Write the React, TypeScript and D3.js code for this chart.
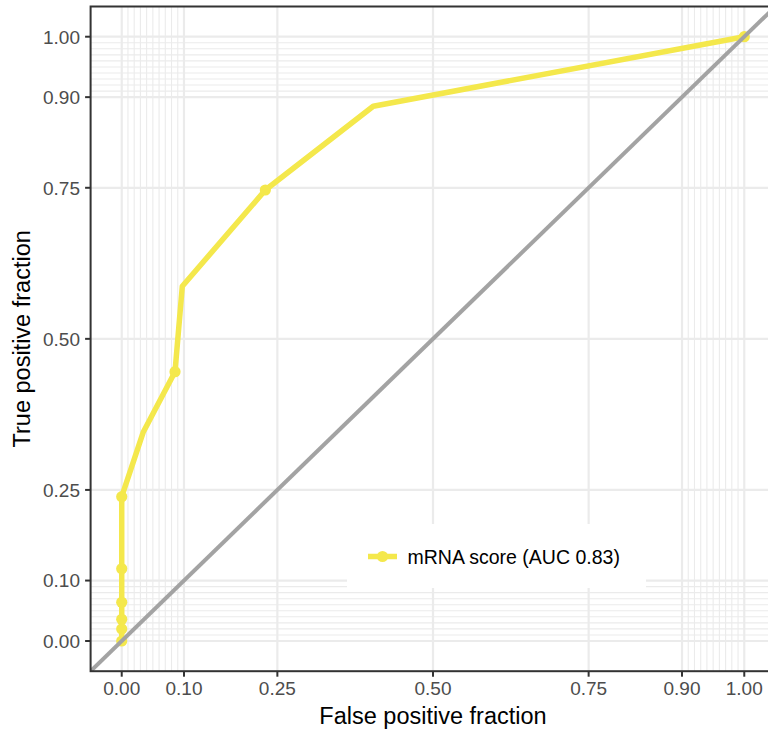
import React from "react";
import * as d3 from "d3";

// ROC curve vertices (false positive fraction, true positive fraction)
const rocFpf = [0, 0, 0, 0, 0, 0, 0.0347, 0.0856, 0.0973, 0.2307, 0.404, 1];
const rocTpf = [0, 0.0199, 0.0359, 0.064, 0.1196, 0.2388, 0.346, 0.4456, 0.587, 0.7463, 0.885, 1];
// cutoff points marked on the curve
const cutFpf = [0, 0, 0, 0, 0, 0, 0.0856, 0.2307, 1];
const cutTpf = [0, 0.0199, 0.0359, 0.064, 0.1196, 0.2388, 0.4456, 0.7463, 1];

const majorBreaks = [0, 0.1, 0.25, 0.5, 0.75, 0.9, 1];
const tickLabels = ["0.00", "0.10", "0.25", "0.50", "0.75", "0.90", "1.00"];
const minorBreaks = [
  0.01, 0.02, 0.03, 0.04, 0.05, 0.06, 0.07, 0.08, 0.09,
  0.91, 0.92, 0.93, 0.94, 0.95, 0.96, 0.97, 0.98, 0.99,
];
const seriesName = "mRNA score (AUC 0.83)";
const xTitle = "False positive fraction";
const yTitle = "True positive fraction";

const W = 768;
const H = 736;
const L = 90.6, R = 775.4, T = 6.5, B = 671.2;
const YELLOW = "#F4E84C";
const GRID = "#EBEBEB";
const FONT = "'Liberation Sans', Arial, Helvetica, sans-serif";

export default function App() {
  const x = d3.scaleLinear().domain([-0.05, 1.05]).range([L, R]);
  const y = d3.scaleLinear().domain([-0.05, 1.05]).range([B, T]);
  const pts = rocFpf.map((f, i) => [f, rocTpf[i]] as [number, number]);
  const line = d3
    .line<[number, number]>()
    .x((d) => x(d[0]))
    .y((d) => y(d[1]));
  const cuts = cutFpf.map((f, i) => [f, cutTpf[i]]);

  // legend box
  const lgX0 = 347, lgX1 = 646, lgY0 = 524, lgY1 = 588;
  const lgCy = (lgY0 + lgY1) / 2 + 0.5;

  return (
    <svg width={W} height={H} style={{ display: "block", position: "absolute", left: 0, top: 0 }}>
      <rect x={0} y={0} width={W} height={H} fill="#fff" />
      <defs>
        <clipPath id="panel">
          <rect x={L} y={T} width={R - L} height={B - T} />
        </clipPath>
      </defs>
      <g clipPath="url(#panel)">
        {minorBreaks.map((b) => (
          <g key={"mn" + b}>
            <line x1={x(b)} x2={x(b)} y1={T} y2={B} stroke={GRID} strokeWidth={1.1} />
            <line x1={L} x2={R} y1={y(b)} y2={y(b)} stroke={GRID} strokeWidth={1.1} />
          </g>
        ))}
        {majorBreaks.map((b) => (
          <g key={"mj" + b}>
            <line x1={x(b)} x2={x(b)} y1={T} y2={B} stroke={GRID} strokeWidth={2.2} />
            <line x1={L} x2={R} y1={y(b)} y2={y(b)} stroke={GRID} strokeWidth={2.2} />
          </g>
        ))}
        <path
          d={line(pts) || ""}
          fill="none"
          stroke={YELLOW}
          strokeWidth={5.5}
          strokeLinejoin="round"
        />
        {cuts.map((c, i) => (
          <circle key={i} cx={x(c[0])} cy={y(c[1])} r={5.6} fill={YELLOW} />
        ))}
        <line
          x1={x(-0.05)}
          y1={y(-0.05)}
          x2={x(1.05)}
          y2={y(1.05)}
          stroke="#A3A3A3"
          strokeWidth={4}
        />
        {/* legend */}
        <rect x={lgX0} y={lgY0} width={lgX1 - lgX0} height={lgY1 - lgY0} fill="#fff" />
        <line x1={368} x2={397} y1={lgCy} y2={lgCy} stroke={YELLOW} strokeWidth={5.5} />
        <circle cx={382.5} cy={lgCy} r={5.6} fill={YELLOW} />
        <text x={407.5} y={lgCy + 7.5} fontFamily={FONT} fontSize={19.5} fill="#000">
          {seriesName}
        </text>
      </g>
      <rect x={L} y={T} width={R - L} height={B - T} fill="none" stroke="#333333" strokeWidth={2} />
      {/* y axis */}
      {majorBreaks.map((b, i) => (
        <g key={"yt" + b}>
          <line x1={L - 5.5} x2={L} y1={y(b)} y2={y(b)} stroke="#333333" strokeWidth={2} />
          <text
            x={80}
            y={y(b) + 6.8}
            textAnchor="end"
            fontFamily={FONT}
            fontSize={19}
            fill="#4D4D4D"
          >
            {tickLabels[i]}
          </text>
        </g>
      ))}
      {/* x axis */}
      {majorBreaks.map((b, i) => (
        <g key={"xt" + b}>
          <line x1={x(b)} x2={x(b)} y1={B} y2={B + 5.5} stroke="#333333" strokeWidth={2} />
          <text
            x={x(b)}
            y={695}
            textAnchor="middle"
            fontFamily={FONT}
            fontSize={19}
            fill="#4D4D4D"
          >
            {tickLabels[i]}
          </text>
        </g>
      ))}
      <text
        x={(L + R) / 2}
        y={724}
        textAnchor="middle"
        fontFamily={FONT}
        fontSize={23.5}
        fill="#000"
      >
        {xTitle}
      </text>
      <text
        transform={`translate(30,${(T + B) / 2}) rotate(-90)`}
        textAnchor="middle"
        fontFamily={FONT}
        fontSize={23.5}
        fill="#000"
      >
        {yTitle}
      </text>
    </svg>
  );
}
